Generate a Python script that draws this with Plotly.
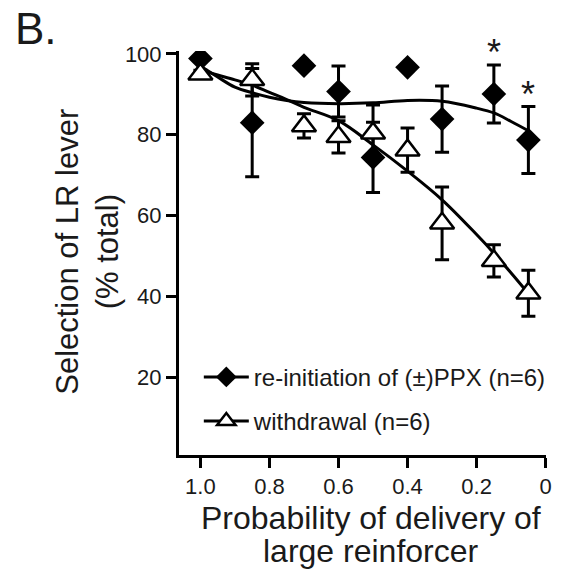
import plotly.graph_objects as go

# ---- data ----
prob = [1.0, 0.85, 0.7, 0.6, 0.5, 0.4, 0.3, 0.15, 0.05]

reinit_y = [98.9, 83.0, 97.1, 90.7, 74.4, 96.7, 83.9, 90.1, 78.7]
reinit_err = [0.8, 13.4, 0.8, 6.3, 8.7, 0.8, 8.2, 7.2, 8.3]

withdr_y = [95.0, 93.6, 82.2, 79.5, 80.4, 76.2, 58.1, 48.8, 40.8]
withdr_err = [1.0, 4.0, 3.0, 4.0, 7.0, 5.5, 9.0, 4.0, 5.7]

fit_x = [1.0, 0.95, 0.9, 0.85, 0.8, 0.75, 0.7, 0.6, 0.5, 0.4, 0.3, 0.2, 0.15, 0.1, 0.05]
reinit_fit = [97.0, 94.3, 91.8, 90.4, 89.3, 88.5, 88.0, 87.7, 87.9, 88.5, 88.3, 86.6, 85.4, 83.3, 81.0]
withdr_fit = [96.0, 94.8, 93.6, 92.3, 90.5, 88.7, 86.8, 83.5, 77.5, 71.0, 63.9, 55.3, 50.7, 45.8, 40.7]

signif_x = [0.15, 0.05]

x_ticks = [1.0, 0.8, 0.6, 0.4, 0.2, 0]
x_ticktext = ["1.0", "0.8", "0.6", "0.4", "0.2", "0"]
y_ticks = [20, 40, 60, 80, 100]

names = ["re-initiation of (±)PPX (n=6)", "withdrawal (n=6)"]

FONT = "Arial, Liberation Sans, Helvetica, sans-serif"
TXT = "#1a1a1a"

fig = go.Figure()

# fitted curves
fig.add_trace(go.Scatter(x=fit_x, y=reinit_fit, mode="lines", line=dict(color="black", width=3, shape="spline"),
                         showlegend=False, hoverinfo="skip"))
fig.add_trace(go.Scatter(x=fit_x, y=withdr_fit, mode="lines", line=dict(color="black", width=3, shape="spline"),
                         showlegend=False, hoverinfo="skip"))

# data points
fig.add_trace(go.Scatter(x=prob, y=reinit_y, mode="markers",
                         marker=dict(symbol="diamond", size=19, color="black", line=dict(width=0)),
                         error_y=dict(type="data", array=reinit_err, color="black", thickness=3, width=7),
                         showlegend=False))
fig.add_trace(go.Scatter(x=prob, y=withdr_y, mode="markers",
                         marker=dict(symbol="triangle-up", size=21, color="white", line=dict(width=2.5, color="black")),
                         error_y=dict(type="data", array=withdr_err, color="black", thickness=3, width=7),
                         showlegend=False))

# legend entries
fig.add_trace(go.Scatter(x=[None], y=[None], mode="lines+markers", name=names[0], legendgroup="a",
                         line=dict(color="black", width=3),
                         marker=dict(symbol="diamond", size=16, color="black")))
fig.add_trace(go.Scatter(x=[None], y=[None], mode="lines+markers", name=names[1], legendgroup="b",
                         line=dict(color="black", width=3),
                         marker=dict(symbol="triangle-up", size=16, color="white", line=dict(width=2.5, color="black"))))

# significance asterisks
for sx in signif_x:
    i = prob.index(sx)
    fig.add_annotation(x=sx, y=reinit_y[i] + reinit_err[i], xref="x", yref="y", text="*",
                       showarrow=False, yanchor="bottom", yshift=-10,
                       font=dict(family=FONT, size=36, color=TXT))

# axis titles
fig.add_annotation(x=0.523, y=-0.156, xref="paper", yref="paper", text="Probability of delivery of",
                   showarrow=False, xanchor="center", yanchor="middle", font=dict(family=FONT, size=32, color=TXT))
fig.add_annotation(x=0.523, y=-0.2376, xref="paper", yref="paper", text="large reinforcer",
                   showarrow=False, xanchor="center", yanchor="middle", font=dict(family=FONT, size=32, color=TXT))
fig.add_annotation(x=-0.303, y=0.5025, xref="paper", yref="paper", text="Selection of LR lever",
                   showarrow=False, textangle=-90, xanchor="center", yanchor="middle",
                   font=dict(family=FONT, size=31, color=TXT))
fig.add_annotation(x=-0.1925, y=0.5025, xref="paper", yref="paper", text="(% total)",
                   showarrow=False, textangle=-90, xanchor="center", yanchor="middle",
                   font=dict(family=FONT, size=31, color=TXT))
# panel label
fig.add_annotation(x=-0.452, y=1.122, xref="paper", yref="paper", text="B.",
                   showarrow=False, xanchor="left", yanchor="top", font=dict(family=FONT, size=44, color=TXT))

fig.update_layout(
    width=562, height=573,
    margin=dict(l=179, r=10, t=51, b=118),
    paper_bgcolor="white", plot_bgcolor="white",
    font=dict(family=FONT, color=TXT),
    legend=dict(x=0.054, y=0.248, xanchor="left", yanchor="top", bgcolor="rgba(0,0,0,0)",
                font=dict(family=FONT, size=24, color=TXT), traceorder="grouped", tracegroupgap=10,
                itemwidth=45),
    xaxis=dict(range=[1.062, -0.001], tickmode="array", tickvals=x_ticks, ticktext=x_ticktext,
               showgrid=False, zeroline=False, showline=True, linecolor="black", linewidth=3,
               ticks="outside", ticklen=10, tickwidth=3, tickcolor="black",
               tickfont=dict(family=FONT, size=22, color=TXT)),
    yaxis=dict(range=[0.74, 100.74], tickmode="array", tickvals=y_ticks,
               showgrid=False, zeroline=False, showline=True, linecolor="black", linewidth=3,
               ticks="outside", ticklen=10, tickwidth=3, tickcolor="black",
               tickfont=dict(family=FONT, size=22, color=TXT)),
)

fig.write_html("out.html")
